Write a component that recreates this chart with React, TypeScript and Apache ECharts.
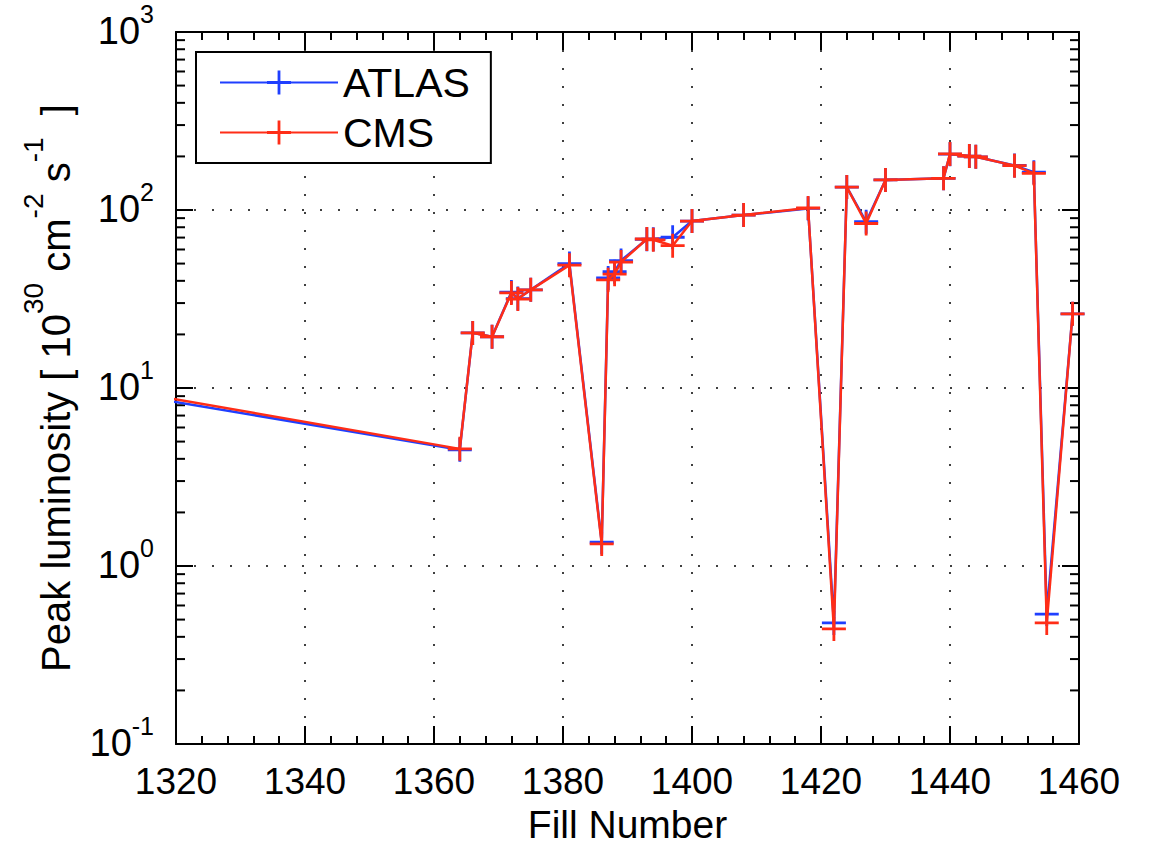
import React, { useEffect, useRef } from "react";
import * as echarts from "echarts";

// ---- data ----
const fills = [1310, 1364, 1366, 1369, 1372, 1373, 1375, 1381, 1386, 1387, 1388, 1389, 1393, 1394, 1397, 1400, 1408, 1418, 1422, 1424, 1427, 1430, 1439, 1440, 1443, 1444, 1450, 1453, 1455, 1459];
const atlas = [9.6, 4.5, 20.4, 19.4, 34.6, 31.8, 35.6, 50, 1.36, 41.5, 45, 52, 68.5, 68.5, 70.3, 86.7, 93.7, 102, 0.479, 134.5, 85.9, 147.6, 150.7, 206, 201, 199, 178, 163, 0.537, 26.1];
const cms = [10.0, 4.55, 20.4, 19.4, 34.2, 31.6, 35.6, 49, 1.33, 40.5, 43.6, 51, 68.7, 68, 63, 86.7, 93.7, 102.6, 0.443, 134.5, 84, 147.6, 150.7, 206.5, 201, 199, 177.5, 160.7, 0.479, 26.1];
const xTicks = { min: 1320, max: 1460, step: 20 };
const yRange = { min: 0.1, max: 1000 };
const yMinorTicks = [0.2, 0.3, 0.4, 0.5, 0.6, 0.7, 0.8, 0.9, 2, 3, 4, 5, 6, 7, 8, 9, 20, 30, 40, 50, 60, 70, 80, 90, 200, 300, 400, 500, 600, 700, 800, 900];
const seriesNames = ["ATLAS", "CMS"];
const colors = ["#1f3fff", "#ff2d17"];

const FONT = "'Liberation Sans', Arial, Helvetica, sans-serif";
const CROSS = "path://M-1.4,-12h2.8v24h-2.8zM-12,-1.4h24v2.8h-24z";

export default function App() {
  const ref = useRef<HTMLDivElement>(null);
  useEffect(() => {
    const chart = echarts.init(ref.current!, null, { renderer: "svg" });
    const black = "#000";
    const axisLine = { show: true, lineStyle: { color: black, width: 2 } };
    const dotted = { show: true, lineStyle: { color: black, width: 1.5, type: [2, 16] as any } };
    const xCommon = {
      type: "value" as const,
      min: xTicks.min,
      max: xTicks.max,
      interval: xTicks.step,
      axisLine,
      axisTick: { show: true, inside: true, length: 18, lineStyle: { color: black, width: 2 } },
      minorTick: { show: true, splitNumber: 5, length: 8, lineStyle: { color: black, width: 2 } },
    };
    const yCommon = {
      type: "log" as const,
      logBase: 10,
      min: yRange.min,
      max: yRange.max,
      axisLine,
      axisTick: { show: true, inside: true, length: 17, lineStyle: { color: black, width: 2 } },
    };
    const mkLine = (i: number, vals: number[]) => ({
      name: seriesNames[i],
      type: "line",
      data: fills.map((f, k) => [f, vals[k]]),
      symbol: CROSS,
      symbolSize: 24,
      showAllSymbol: true,
      clip: true,
      z: 3 + i,
      lineStyle: { color: colors[i], width: 2.5 },
      itemStyle: { color: colors[i] },
      emphasis: { disabled: true },
    });
    chart.setOption({
      animation: false,
      backgroundColor: "#fff",
      textStyle: { fontFamily: FONT },
      grid: {
        left: 176,
        right: 75,
        top: 32,
        bottom: 102,
        show: false,
        containLabel: false,
        outerBoundsMode: "none",
      },
      legend: {
        data: seriesNames,
        orient: "vertical",
        left: 196,
        top: 52,
        itemWidth: 118,
        itemHeight: 30,
        itemGap: 9,
        itemTextGap: 22,
        padding: [10, 21, 10, 23],
        backgroundColor: "#fff",
        borderColor: black,
        borderWidth: 2,
        borderRadius: 0,
        textStyle: { fontSize: 41, color: black, fontFamily: FONT },
        selectedMode: false,
      },
      xAxis: [
        {
          ...xCommon,
          position: "bottom",
          axisLabel: {
            show: true,
            fontSize: 37,
            color: black,
            margin: 19,
            fontFamily: FONT,
            formatter: (v: number) => String(v),
          },
          splitLine: dotted,
          name: "Fill Number",
          nameLocation: "middle",
          nameGap: 58,
          nameTextStyle: { fontSize: 39, color: black, fontFamily: FONT },
        },
        {
          ...xCommon,
          position: "top",
          axisLabel: { show: false },
          splitLine: { show: false },
        },
      ],
      yAxis: [
        {
          ...yCommon,
          position: "left",
          splitLine: dotted,
          axisLabel: {
            show: true,
            margin: 22,
            color: black,
            padding: [0, 0, 3, 0],
            formatter: (v: number) => `{b|10}{s|${Math.round(Math.log10(v))}}`,
            rich: {
              b: { fontSize: 38, lineHeight: 58, color: black, fontFamily: FONT },
              s: { fontSize: 25, lineHeight: 25, verticalAlign: "top", color: black, fontFamily: FONT },
            },
          },
          name: "{b|Peak luminosity [ 10}{s|30}{b| cm}{s|-2}{b| s}{s|-1}{b|  ]}",
          nameLocation: "middle",
          nameRotate: 90,
          nameGap: 83,
          nameTextStyle: {
            color: black,
            rich: {
              b: { fontSize: 40, lineHeight: 74, color: black, fontFamily: FONT },
              s: { fontSize: 28, lineHeight: 28, verticalAlign: "top", color: black, fontFamily: FONT },
            },
          },
        },
        {
          ...yCommon,
          position: "right",
          axisLabel: { show: false },
          splitLine: { show: false },
        },
      ],
      series: [
        mkLine(0, atlas),
        mkLine(1, cms),
        {
          type: "custom",
          name: "minorTicks",
          xAxisIndex: 0,
          yAxisIndex: 0,
          data: yMinorTicks.map((v) => [xTicks.min, v]),
          encode: { x: 0, y: 1 },
          silent: true,
          z: 2,
          renderItem: (params: any, api: any) => {
            const pt = api.coord([api.value(0), api.value(1)]);
            const cs = params.coordSys;
            const st = { stroke: black, lineWidth: 2 };
            return {
              type: "group",
              children: [
                { type: "line", shape: { x1: cs.x, y1: pt[1], x2: cs.x + 9, y2: pt[1] }, style: st },
                { type: "line", shape: { x1: cs.x + cs.width - 9, y1: pt[1], x2: cs.x + cs.width, y2: pt[1] }, style: st },
              ],
            };
          },
        },
      ],
    });
    return () => chart.dispose();
  }, []);
  return (
    <div
      ref={ref}
      style={{ position: "fixed", left: 0, top: 0, width: 1154, height: 846, background: "#fff" }}
    />
  );
}
